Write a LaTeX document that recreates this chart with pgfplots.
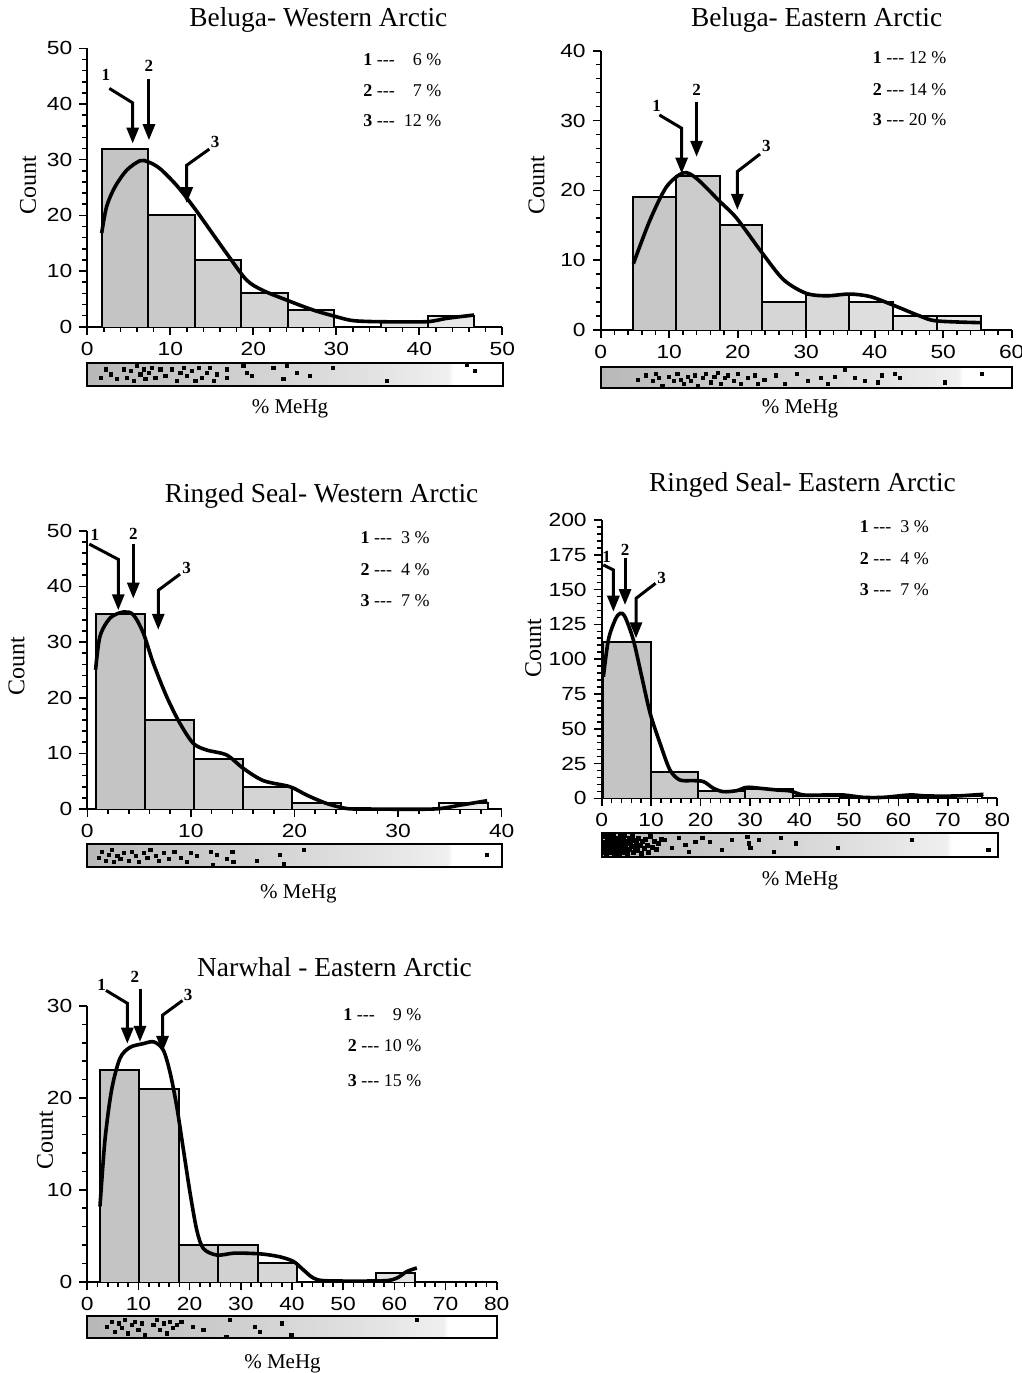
\documentclass[border=0pt]{standalone}
\usepackage{pgfplots}
\pgfplotsset{compat=1.18}
\usetikzlibrary{arrows.meta}
\usepackage{fontspec}
\setmainfont{Liberation Serif}
\setsansfont{Liberation Sans}
\newfontfamily\ticksf[FakeStretch=1.2]{Liberation Sans}

\pgfdeclarehorizontalshading{stripshade}{100bp}{color(0bp)=(black!28); color(25bp)=(black!28); color(45bp)=(black!18); color(60bp)=(black!11); color(68.5bp)=(black!6); color(69bp)=(white); color(100bp)=(white)}

\newcommand\hb[4]{%
  \pgfmathsetmacro\hbshade{int(max(7,25-18*((#1)+(#2))/2/(#4)))}%
  \edef\hbtmp{\noexpand\addplot[draw=black,line width=1pt,fill=black!\hbshade] coordinates {(#1,0) (#1,#3) (#2,#3) (#2,0)};}%
  \hbtmp}

\pgfplotsset{
  panel/.style={anchor=south west, scale only axis,
    axis x line*=bottom, axis y line*=left,
    axis line style={line width=1pt},
    tick align=outside, major tick length=4pt, minor tick length=2.5pt,
    every tick/.style={black, line width=0.8pt},
    minor x tick num=4, minor y tick num=4,
    clip=false, enlargelimits=false,
    /pgf/number format/assume math mode=true,
    tick label style={font=\ticksf\fontsize{9.5}{9.5}\selectfont},
  },
  strip/.style={anchor=south west, scale only axis, ymin=0, ymax=1,
    xtick=\empty, ytick=\empty, axis line style={line width=1pt},
    axis background/.style={shade, shading=stripshade}},
  curve/.style={smooth, line width=1.8pt, black, mark=none},
  dots/.style={only marks, mark=square*, mark size=0.8pt, black},
}
\tikzset{
  arr/.style={line width=1.5pt, line join=miter, -{Triangle[length=8pt,width=6pt]}},
  lab/.style={font=\bfseries\fontsize{8.5}{8.5}\selectfont},
  ttl/.style={anchor=base, font=\fontsize{13.7}{14}\selectfont},
  cnt/.style={rotate=90, font=\fontsize{12}{12}\selectfont},
  meh/.style={anchor=base, font=\fontsize{10.5}{11}\selectfont},
  leg/.style={anchor=base east, font=\fontsize{9}{9}\selectfont},
}

\begin{document}
\begin{tikzpicture}
\useasboundingbox (0,0) rectangle (511pt,-686.5pt);

% ---------------- Panel 1: Beluga West
\begin{axis}[panel, at={(43.65pt,-163.35pt)}, width=207.5pt, height=139.2pt,
  xmin=0, xmax=50, ymin=0, ymax=50, xtick={0,10,...,50}, ytick={0,10,...,50}]
\hb{1.73}{7.34}{32}{50}
\hb{7.34}{12.95}{20}{50}
\hb{12.95}{18.56}{12}{50}
\hb{18.56}{24.17}{6}{50}
\hb{24.17}{29.78}{3}{50}
\hb{35.39}{41.0}{1}{50}
\hb{41.0}{46.61}{2}{50}
\addplot[curve] coordinates {(1.73,16.8) (2.33,21.6) (3.33,25.1) (4.74,28.1) (6.34,29.8) (7.34,29.6) (8.75,28.4) (10.75,25.4) (12.76,21.6) (14.77,17.4) (16.77,13.2) (19.18,8.4) (21.19,6.5) (23.99,4.8) (27.2,3.0) (30.0,1.8) (32.0,1.1) (35.2,0.9) (40.85,0.9) (43.3,1.5) (46.6,2.1)};
\draw[arr] (2.65,42.8) -- (5.47,40.2) -- (5.47,32.9);
\draw[arr] (7.43,44.4) -- (7.43,33.5);
\draw[arr] (14.7,31.9) -- (11.98,29.0) -- (11.98,22.2);
\node[lab] at (2.25,45.2) {1};
\node[lab] at (7.43,46.8) {2};
\node[lab] at (15.39,33.2) {3};
\end{axis}
\begin{axis}[strip, at={(43.65pt,-193pt)}, width=207.7pt, height=11.65pt, xmin=0, xmax=50]
\addplot[dots] coordinates {(1.6,0.36) (2.2,0.71) (2.8,0.5) (3.6,0.29) (4.4,0.71) (4.8,0.36) (5.2,0.64) (5.6,0.21) (6.0,0.86) (6.4,0.5) (6.8,0.71) (7.0,0.29) (7.4,0.57) (7.8,0.79) (8.2,0.36) (8.8,0.71) (9.4,0.43) (10.2,0.71) (10.8,0.21) (11.2,0.57) (11.6,0.79) (12.0,0.43) (12.6,0.64) (13.0,0.21) (13.4,0.79) (13.8,0.36) (14.4,0.57) (14.8,0.79) (15.2,0.21) (15.6,0.5) (16.8,0.71) (16.8,0.36) (18.8,0.86) (19.2,0.57) (19.8,0.43) (22.4,0.79) (23.6,0.29) (24.0,0.86) (25.2,0.57) (26.8,0.43) (29.6,0.79) (36.1,0.21) (45.7,0.93) (46.7,0.64)};
\end{axis}
\node[ttl] at (159.2pt,-13.35pt) {Beluga- Western Arctic};
\node[cnt] at (14pt,-92.5pt) {Count};
\node[meh] at (145pt,-206.7pt) {\% MeHg};
\node[leg] at (224.2pt,-32.5pt) {\textbf{1} -{}-{}-\ \ \phantom{1}6 \%};
\node[leg] at (224.2pt,-48pt) {\textbf{2} -{}-{}-\ \ \phantom{1}7 \%};
\node[leg] at (224.2pt,-63.3pt) {\textbf{3} -{}-{}-\ \ 12 \%};

% ---------------- Panel 2: Beluga East
\begin{axis}[panel, at={(300.35pt,-165pt)}, width=205.5pt, height=139.65pt,
  xmin=0, xmax=60, ymin=0, ymax=40, xtick={0,10,...,60}, ytick={0,10,...,40}]
\hb{4.77}{11.0}{19}{60}
\hb{11.0}{17.42}{22}{60}
\hb{17.42}{23.6}{15}{60}
\hb{23.6}{29.98}{4}{60}
\hb{29.98}{36.3}{5}{60}
\hb{36.3}{42.6}{4}{60}
\hb{42.6}{49.05}{2}{60}
\hb{49.05}{55.5}{2}{60}
\addplot[curve] coordinates {(4.77,9.5) (7.2,15.75) (9.6,20.5) (12.07,22.5) (14.0,21.7) (17.4,18.4) (19.85,16.0) (23.6,11.0) (26.7,7.2) (30.0,5.25) (33.0,4.9) (36.3,5.15) (39.3,4.8) (42.6,3.6) (46.6,2.0) (49.05,1.3) (55.5,1.05)};
\draw[arr] (8.56,30.8) -- (11.82,28.9) -- (11.82,22.4);
\draw[arr] (14.0,32.7) -- (14.0,24.8);
\draw[arr] (23.26,25.2) -- (19.95,22.7) -- (19.95,17.2);
\node[lab] at (8.18,32.1) {1};
\node[lab] at (14.0,34.4) {2};
\node[lab] at (24.2,26.3) {3};
\end{axis}
\begin{axis}[strip, at={(300.35pt,-194.15pt)}, width=205.5pt, height=10.8pt, xmin=0, xmax=60]
\addplot[dots] coordinates {(5.4,0.4) (6.6,0.6) (7.6,0.33) (8.1,0.67) (8.5,0.47) (9.0,0.13) (10.0,0.53) (10.7,0.33) (11.2,0.67) (11.7,0.4) (12.2,0.2) (12.7,0.53) (13.2,0.33) (13.7,0.6) (14.2,0.13) (14.9,0.47) (15.4,0.67) (16.1,0.27) (16.6,0.53) (17.1,0.73) (17.6,0.2) (18.1,0.47) (18.6,0.6) (19.5,0.33) (20.0,0.67) (20.5,0.2) (21.5,0.47) (22.5,0.6) (23.0,0.2) (23.9,0.4) (25.6,0.6) (26.9,0.2) (28.6,0.67) (30.3,0.33) (32.2,0.47) (33.2,0.2) (34.2,0.53) (35.7,0.87) (37.1,0.47) (38.6,0.33) (40.5,0.27) (41.0,0.6) (43.0,0.67) (43.7,0.47) (50.3,0.27) (55.7,0.67)};
\end{axis}
\node[ttl] at (408.3pt,-13pt) {Beluga- Eastern Arctic};
\node[cnt] at (268.3pt,-92.5pt) {Count};
\node[meh] at (400pt,-206.7pt) {\% MeHg};
\node[leg] at (476.7pt,-31.7pt) {\textbf{1} -{}-{}- 12 \%};
\node[leg] at (476.7pt,-47.5pt) {\textbf{2} -{}-{}- 14 \%};
\node[leg] at (476.7pt,-62.5pt) {\textbf{3} -{}-{}- 20 \%};

% ---------------- Panel 3: Ringed Seal West
\begin{axis}[panel, at={(43.65pt,-404.5pt)}, width=207.2pt, height=139.15pt,
  xmin=0, xmax=40, ymin=0, ymax=50, xtick={0,10,...,40}, ytick={0,10,...,50}]
\hb{0.8}{5.54}{35}{40}
\hb{5.54}{10.28}{16}{40}
\hb{10.28}{15.02}{9}{40}
\hb{15.02}{19.76}{4}{40}
\hb{19.76}{24.5}{1}{40}
\hb{33.98}{38.72}{1}{40}
\addplot[curve] coordinates {(0.80,25.0) (1.22,31.0) (2.19,34.3) (3.48,35.4) (4.44,34.9) (5.41,31.6) (6.37,26.2) (7.66,20.2) (8.94,15.4) (10.23,11.8) (11.52,10.6) (13.45,9.7) (15.06,7.3) (16.99,5.1) (19.57,4.0) (21.18,2.5) (23.1,1.0) (25.0,0.1) (26.97,0) (33.4,0) (36.0,0.7) (38.6,1.5)};
\draw[arr] (0.19,47.6) -- (2.99,44.85) -- (2.99,35.7);
\draw[arr] (4.44,47.6) -- (4.44,37.8);
\draw[arr] (8.95,42.2) -- (6.85,39.3) -- (6.85,32.2);
\node[lab] at (0.74,49.2) {1};
\node[lab] at (4.44,49.5) {2};
\node[lab] at (9.59,43.4) {3};
\end{axis}
\begin{axis}[strip, at={(43.65pt,-433.35pt)}, width=207.2pt, height=11.35pt, xmin=0, xmax=40]
\addplot[dots] coordinates {(1.1,0.4) (1.4,0.67) (1.8,0.27) (2.1,0.53) (2.4,0.73) (2.6,0.2) (2.9,0.47) (3.2,0.33) (3.5,0.6) (4.0,0.27) (4.3,0.67) (4.7,0.47) (5.0,0.2) (5.5,0.6) (5.8,0.4) (6.1,0.73) (6.6,0.47) (6.9,0.27) (7.4,0.6) (7.9,0.33) (8.4,0.67) (9.0,0.4) (9.6,0.2) (10.0,0.6) (10.6,0.47) (11.9,0.67) (12.1,0.07) (12.5,0.53) (13.5,0.33) (14.0,0.67) (14.1,0.2) (16.4,0.27) (18.6,0.53) (19.0,0.13) (20.9,0.73) (38.6,0.53)};
\end{axis}
\node[ttl] at (160.8pt,-251.3pt) {Ringed Seal- Western Arctic};
\node[cnt] at (8.3pt,-333.3pt) {Count};
\node[meh] at (149.2pt,-449.2pt) {\% MeHg};
\node[leg] at (218.3pt,-271.7pt) {\textbf{1} -{}-{}-\ \ 3 \%};
\node[leg] at (218.3pt,-287.5pt) {\textbf{2} -{}-{}-\ \ 4 \%};
\node[leg] at (218.3pt,-303pt) {\textbf{3} -{}-{}-\ \ 7 \%};

% ---------------- Panel 4: Ringed Seal East
\begin{axis}[panel, at={(300.85pt,-399.15pt)}, width=197.8pt, height=139.15pt,
  xmin=0, xmax=80, ymin=0, ymax=200, xtick={0,10,...,80}, ytick={0,25,...,200}]
\hb{0.34}{9.9}{112}{80}
\hb{9.9}{19.5}{19}{80}
\hb{19.5}{29.0}{5}{80}
\hb{29.0}{38.6}{7}{80}
\hb{38.6}{48.2}{2}{80}
\hb{48.2}{57.7}{1}{80}
\hb{57.7}{67.3}{1}{80}
\hb{67.3}{76.9}{2}{80}
\addplot[curve] coordinates {(0.34,87.4) (1.35,113.8) (2.7,128.1) (3.7,132.9) (4.7,130.5) (6.4,113.8) (8.1,87.4) (9.8,61.1) (11.8,39.5) (13.8,20.4) (15.8,13.2) (18.5,12.7) (20.6,12.0) (22.6,7.2) (24.6,4.8) (27.3,5.5) (29.3,7.9) (32.0,7.2) (35.4,6.0) (38.1,5.3) (40.8,2.4) (45.5,2.4) (48.9,2.4) (52.9,0.7) (57.0,0.7) (62.3,2.4) (65.7,1.7) (71.8,1.7) (77.2,2.9)};
\draw[arr] (0.34,167.7) -- (2.36,164.1) -- (2.36,134.1);
\draw[arr] (4.72,172.5) -- (4.72,138.9);
\draw[arr] (10.9,154.5) -- (6.94,143.7) -- (6.94,115.0);
\node[lab] at (1.0,173.7) {1};
\node[lab] at (4.72,178.4) {2};
\node[lab] at (12.1,158.1) {3};
\end{axis}
\begin{axis}[strip, at={(300.85pt,-428.35pt)}, width=198.3pt, height=11.7pt, xmin=0, xmax=80]
\addplot[dots, mark size=1pt] coordinates {(0.4,0.2) (0.5,0.6) (0.7,0.85) (0.8,0.4) (1.0,0.15) (1.1,0.7) (1.2,0.5) (1.4,0.3) (1.5,0.85) (1.6,0.6) (1.8,0.2) (1.9,0.45) (2.0,0.75) (2.2,0.35) (2.3,0.9) (2.4,0.55) (2.6,0.15) (2.7,0.65) (2.8,0.4) (3.0,0.8) (3.1,0.25) (3.2,0.55) (3.4,0.7) (3.5,0.1) (3.6,0.45) (3.8,0.85) (3.9,0.3) (4.0,0.6) (4.2,0.2) (4.3,0.75) (4.5,0.5) (4.6,0.9) (4.8,0.35) (5.0,0.65) (5.1,0.15) (5.3,0.55) (5.5,0.8) (5.6,0.3) (5.8,0.6) (6.0,0.45) (6.2,0.85) (6.4,0.2) (6.6,0.7) (6.8,0.4) (7.0,0.6) (7.3,0.25) (7.5,0.8) (7.8,0.5) (8.0,0.15) (8.3,0.65) (8.6,0.35) (8.9,0.75) (9.2,0.5) (9.5,0.2) (9.8,0.85) (10.2,0.4) (10.6,0.65) (11.0,0.3) (11.5,0.55) (12.0,0.75)};
\addplot[dots] coordinates {(12.8,0.71) (14.2,0.36) (15.5,0.79) (16.9,0.5) (17.6,0.21) (18.9,0.64) (20.3,0.79) (21.9,0.64) (24.3,0.29) (26.3,0.71) (29.4,0.86) (29.7,0.57) (30.0,0.36) (31.7,0.71) (34.8,0.21) (36.1,0.79) (39.2,0.57) (47.6,0.36) (62.5,0.71) (78.0,0.29)};
\end{axis}
\node[ttl] at (401.25pt,-245.8pt) {Ringed Seal- Eastern Arctic};
\node[cnt] at (266.7pt,-324.2pt) {Count};
\node[meh] at (400pt,-442.5pt) {\% MeHg};
\node[leg] at (468pt,-266.3pt) {\textbf{1} -{}-{}-\ \ 3 \%};
\node[leg] at (468pt,-282pt) {\textbf{2} -{}-{}-\ \ 4 \%};
\node[leg] at (468pt,-297.5pt) {\textbf{3} -{}-{}-\ \ 7 \%};

% ---------------- Panel 5: Narwhal
\begin{axis}[panel, at={(43.65pt,-640.85pt)}, width=204.7pt, height=137.85pt,
  xmin=0, xmax=80, ymin=0, ymax=30, xtick={0,10,...,80}, ytick={0,10,...,30}]
\hb{2.48}{10.2}{23}{80}
\hb{10.2}{17.9}{21}{80}
\hb{17.9}{25.6}{4}{80}
\hb{25.6}{33.3}{4}{80}
\hb{33.3}{41.0}{2}{80}
\hb{56.4}{64.1}{1}{80}
\addplot[curve] coordinates {(2.48,8.2) (3.45,15.4) (4.76,20.9) (6.38,24.3) (8.34,25.5) (10.9,25.9) (13.0,26.1) (14.85,25.2) (16.2,22.7) (17.5,19.0) (18.8,14.3) (20.1,9.6) (21.4,5.6) (22.7,3.6) (25.3,2.9) (28.5,3.1) (31.1,3.1) (34.4,3.0) (37.7,2.7) (40.3,2.2) (42.2,1.3) (44.2,0.4) (46.8,0.1) (57.8,0.1) (60.5,0.4) (62.4,1.1) (64.4,1.5)};
\draw[arr] (3.65,31.7) -- (7.82,30.3) -- (7.82,25.9);
\draw[arr] (10.3,31.8) -- (10.3,26.1);
\draw[arr] (18.6,30.6) -- (14.7,29.0) -- (14.7,25.0);
\node[lab] at (2.8,32.3) {1};
\node[lab] at (9.3,33.2) {2};
\node[lab] at (19.7,31.2) {3};
\end{axis}
\begin{axis}[strip, at={(43.65pt,-669.15pt)}, width=204.7pt, height=11.15pt, xmin=0, xmax=80]
\addplot[dots] coordinates {(3.8,0.52) (4.8,0.75) (5.4,0.3) (6.1,0.67) (6.7,0.45) (7.4,0.82) (8.0,0.22) (8.7,0.6) (9.3,0.75) (10.0,0.37) (10.6,0.67) (11.3,0.15) (12.9,0.6) (13.6,0.82) (14.2,0.37) (14.9,0.67) (15.5,0.22) (16.2,0.75) (16.8,0.45) (17.5,0.6) (18.4,0.75) (20.7,0.52) (22.7,0.37) (27.2,0.07) (27.9,0.82) (32.8,0.52) (33.7,0.3) (38.0,0.67) (39.9,0.15) (64.4,0.82)};
\end{axis}
\node[ttl] at (167.25pt,-488pt) {Narwhal - Eastern Arctic};
\node[cnt] at (22.5pt,-570pt) {Count};
\node[meh] at (141.25pt,-684.2pt) {\% MeHg};
\node[leg] at (214.2pt,-510pt) {\textbf{1} -{}-{}-\ \ \phantom{1}9 \%};
\node[leg] at (214.2pt,-525.8pt) {\textbf{2} -{}-{}- 10 \%};
\node[leg] at (214.2pt,-543.3pt) {\textbf{3} -{}-{}- 15 \%};
\end{tikzpicture}
\end{document}
